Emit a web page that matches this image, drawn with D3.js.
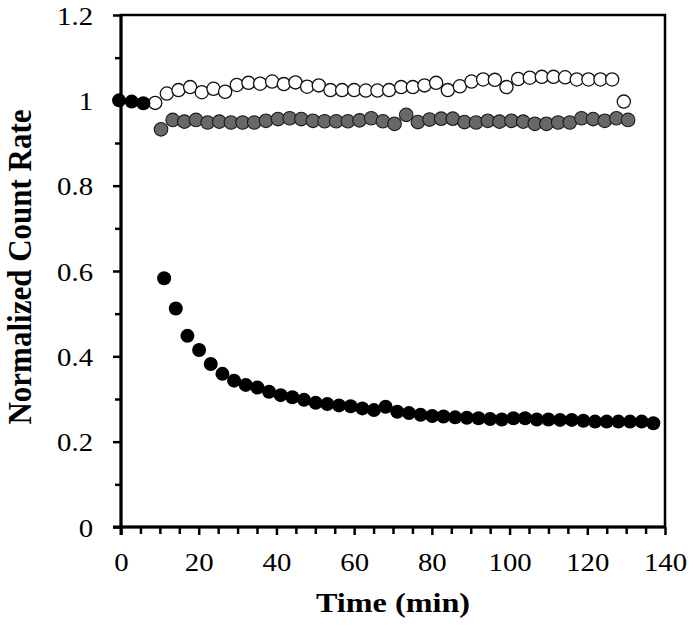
<!DOCTYPE html>
<html>
<head>
<meta charset="utf-8">
<script src="https://cdn.jsdelivr.net/npm/d3@7"></script>
<style>
  html, body { margin: 0; padding: 0; background: #fff; }
  svg { display: block; }
</style>
</head>
<body>
<svg id="chart" width="693" height="626"></svg>
<script>
// ---- data ----
const xTickValues = [0, 20, 40, 60, 80, 100, 120, 140];
const yTickValues = [0, 0.2, 0.4, 0.6, 0.8, 1.0, 1.2];
const yTickLabels = ["0", "0.2", "0.4", "0.6", "0.8", "1", "1.2"];

const openTime = [8.8, 11.8, 14.8, 17.8, 20.8, 23.8, 26.8, 29.8, 32.8, 35.8, 38.9, 41.9, 44.9, 47.9, 50.9, 53.9, 56.9, 60.0, 63.0, 66.0, 69.0, 72.1, 75.1, 78.1, 81.1, 84.1, 87.2, 90.2, 93.2, 96.2, 99.2, 102.2, 105.2, 108.3, 111.3, 114.3, 117.3, 120.3, 123.4, 126.4, 129.4];
const openValue = [0.994, 1.016, 1.024, 1.031, 1.019, 1.027, 1.020, 1.036, 1.041, 1.039, 1.044, 1.038, 1.042, 1.032, 1.035, 1.024, 1.024, 1.024, 1.023, 1.023, 1.024, 1.031, 1.031, 1.035, 1.041, 1.024, 1.033, 1.044, 1.049, 1.048, 1.031, 1.050, 1.053, 1.055, 1.055, 1.054, 1.049, 1.049, 1.049, 1.049, 0.997];

const grayTime = [10.3, 13.3, 16.3, 19.3, 22.3, 25.3, 28.3, 31.3, 34.3, 37.3, 40.4, 43.4, 46.4, 49.4, 52.4, 55.4, 58.4, 61.4, 64.4, 67.4, 70.4, 73.4, 76.4, 79.4, 82.4, 85.4, 88.4, 91.4, 94.4, 97.4, 100.5, 103.5, 106.5, 109.5, 112.5, 115.5, 118.5, 121.5, 124.5, 127.5, 130.5];
const grayValue = [0.932, 0.954, 0.950, 0.954, 0.948, 0.950, 0.948, 0.948, 0.948, 0.952, 0.956, 0.958, 0.956, 0.952, 0.951, 0.951, 0.951, 0.953, 0.958, 0.951, 0.945, 0.966, 0.949, 0.955, 0.957, 0.957, 0.949, 0.948, 0.952, 0.950, 0.952, 0.950, 0.945, 0.945, 0.948, 0.948, 0.958, 0.956, 0.952, 0.958, 0.954];

const blackTime = [-0.5, 2.75, 5.75, 11.1, 14.1, 17.1, 20.1, 23.1, 26.1, 29.1, 32.1, 35.1, 38.1, 41.1, 44.1, 47.1, 50.1, 53.1, 56.1, 59.1, 62.1, 65.1, 68.1, 71.1, 74.1, 77.1, 80.1, 83.0, 86.0, 89.0, 92.0, 95.0, 98.0, 101.0, 104.0, 107.0, 110.0, 113.0, 116.0, 119.0, 122.0, 125.0, 128.0, 131.0, 134.0, 137.0];
const blackValue = [1.000, 0.997, 0.993, 0.583, 0.512, 0.448, 0.415, 0.382, 0.359, 0.343, 0.333, 0.327, 0.317, 0.309, 0.304, 0.298, 0.291, 0.288, 0.285, 0.283, 0.278, 0.274, 0.282, 0.270, 0.267, 0.263, 0.260, 0.259, 0.257, 0.256, 0.255, 0.253, 0.252, 0.255, 0.255, 0.252, 0.252, 0.251, 0.251, 0.249, 0.247, 0.247, 0.247, 0.247, 0.247, 0.243];

const xTitle = "Time (min)";
const yTitle = "Normalized Count Rate";

// ---- layout ----
const pLeft = 121, pRight = 665, pTop = 15, pBottom = 527;
const svg = d3.select("#chart");
const x = d3.scaleLinear().domain([0, 140]).range([pLeft, pRight]);
const y = d3.scaleLinear().domain([0, 1.2]).range([pBottom, pTop]);
const serif = "'Liberation Serif', 'Times New Roman', serif";
const stretch = 1.15;

// frame
svg.append("rect").attr("x", pLeft).attr("y", pTop)
  .attr("width", pRight - pLeft).attr("height", pBottom - pTop)
  .attr("fill", "none").attr("stroke", "#000").attr("stroke-width", 2.5);

// minor ticks
const xMinor = d3.range(0, 141, 5).filter(v => v % 20 !== 0);
const yMinor = d3.range(1, 12, 2).map(v => v / 10);

const gxMinor = svg.append("g").attr("transform", `translate(0,${pBottom})`)
  .call(d3.axisBottom(x).tickValues(xMinor).tickSize(7).tickFormat(""));
const gyMinor = svg.append("g").attr("transform", `translate(${pLeft},0)`)
  .call(d3.axisLeft(y).tickValues(yMinor).tickSize(6).tickFormat(""));

const gx = svg.append("g").attr("transform", `translate(0,${pBottom})`)
  .call(d3.axisBottom(x).tickValues(xTickValues).tickSize(8).tickFormat(d3.format("d")));
const gy = svg.append("g").attr("transform", `translate(${pLeft},0)`)
  .call(d3.axisLeft(y).tickValues(yTickValues).tickSize(8)
    .tickFormat((d, i) => yTickLabels[i]));

[gxMinor, gyMinor, gx, gy].forEach(g => {
  g.select(".domain").remove();
  g.selectAll(".tick line").attr("stroke", "#000").attr("stroke-width", 2.5);
});

gx.selectAll(".tick text")
  .attr("y", 26).attr("dy", "0.71em")
  .attr("transform", `scale(${stretch},1)`)
  .style("font-family", serif).style("font-size", "25px").attr("fill", "#000");
gy.selectAll(".tick text")
  .attr("x", -28 / stretch).attr("dy", "0.36em")
  .attr("transform", `scale(${stretch},1)`)
  .style("font-family", serif).style("font-size", "25px").attr("fill", "#000");

// axis lines (thicker left/bottom)
svg.append("line").attr("x1", pLeft).attr("x2", pLeft).attr("y1", pTop - 1).attr("y2", pBottom + 8)
  .attr("stroke", "#000").attr("stroke-width", 3);
svg.append("line").attr("x1", pLeft - 8).attr("x2", pRight + 1).attr("y1", pBottom).attr("y2", pBottom)
  .attr("stroke", "#000").attr("stroke-width", 3);

// titles
svg.append("text")
  .attr("transform", `translate(${(pLeft + pRight) / 2},612) scale(${stretch},1)`)
  .attr("text-anchor", "middle")
  .style("font-family", serif).style("font-size", "28px").style("font-weight", "bold")
  .text(xTitle);
svg.append("text")
  .attr("transform", `translate(31,${(pTop + pBottom) / 2 - 4}) rotate(-90) scale(1,1.1)`)
  .attr("text-anchor", "middle")
  .style("font-family", serif).style("font-size", "31px").style("font-weight", "bold")
  .text(yTitle);

// series
const open = openTime.map((t, i) => ({ t, v: openValue[i] }));
const gray = grayTime.map((t, i) => ({ t, v: grayValue[i] }));
const black = blackTime.map((t, i) => ({ t, v: blackValue[i] }));

svg.append("g").selectAll("circle").data(open).join("circle")
  .attr("cx", d => x(d.t)).attr("cy", d => y(d.v)).attr("r", 6.6)
  .attr("fill", "#fff").attr("stroke", "#111").attr("stroke-width", 1.3);
svg.append("g").selectAll("circle").data(gray).join("circle")
  .attr("cx", d => x(d.t)).attr("cy", d => y(d.v)).attr("r", 6.8)
  .attr("fill", "#686868").attr("stroke", "#1a1a1a").attr("stroke-width", 1.1);
svg.append("g").selectAll("circle").data(black).join("circle")
  .attr("cx", d => x(d.t)).attr("cy", d => y(d.v)).attr("r", 7)
  .attr("fill", "#000");
</script>
</body>
</html>
